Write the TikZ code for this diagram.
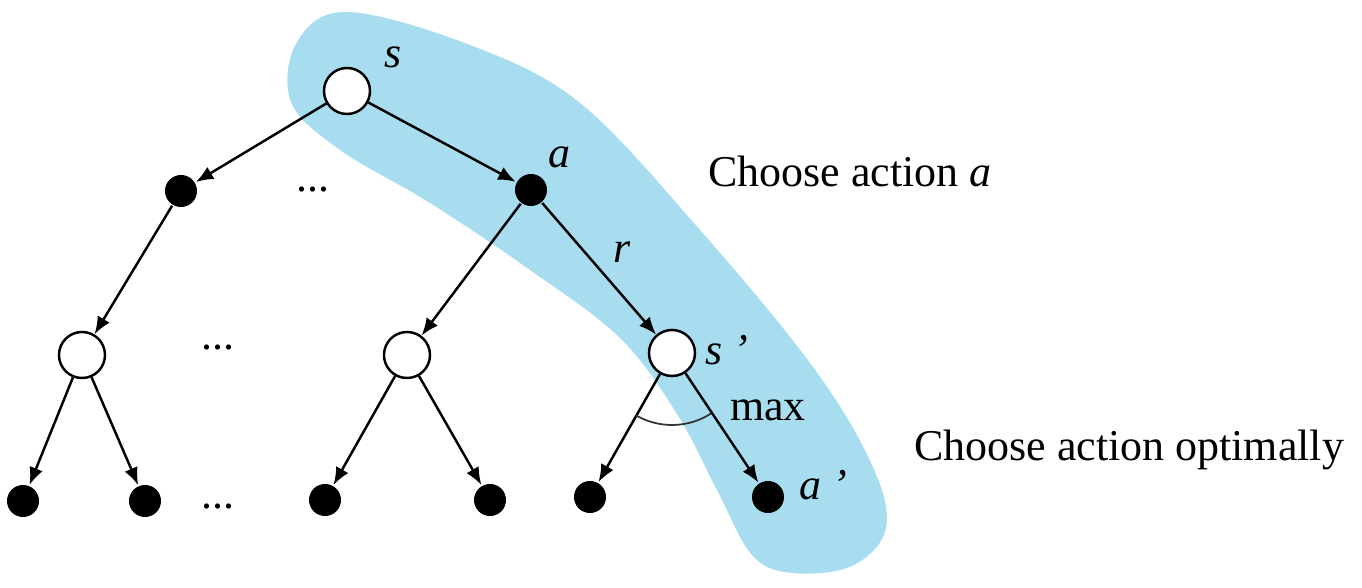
\documentclass[tikz,border=0pt]{standalone}
\usepackage{fontspec}
\setmainfont{Liberation Serif}
\usetikzlibrary{positioning,arrows.meta}
\definecolor{PaleSky}{HTML}{A8DDF0}

\begin{document}
\begin{tikzpicture}[x=0.01cm, y=-0.01cm, line width=0.7pt,
    every node/.style={font=\fontsize{12.5}{15}\selectfont},
    statenode/.style={circle, draw, fill=white, minimum size=0.46cm, inner sep=0pt},
    actionnode/.style={circle, fill=black, minimum size=0.32cm, inner sep=0pt},
    link/.style={-{Latex[length=5pt,width=4pt]}},
    lbl/.style={font=\fontsize{12.5}{15}\selectfont\itshape, inner sep=0pt}]
  \useasboundingbox (0,0) rectangle (1362,588);
  % highlighted path
  \fill[PaleSky] plot[smooth cycle, tension=0.6] coordinates {(347,12) (470,45) (580,103) (700,230)
    (813,367) (872,465) (886,528) (852,566) (792,573) (752,555) (717,490) (677,414) (620,338)
    (530,270) (430,203) (340,150) (291,102) (297,42)};
  % tree
  \node[statenode] (s) at (347,91) {};
  \node[actionnode] (al) at (181,191) {};
  \node[actionnode] (a) at (531,190) {};
  \node (dotsA) at (313,190) {...};
  \node[statenode] (sl) at (82,355) {};
  \node (dotsB) at (218,348) {...};
  \node[statenode] (sm) at (407,355) {};
  \node[statenode] (sp) at (672,353) {};
  \node[actionnode] (b1) at (23,501) {};
  \node[actionnode] (b2) at (145,501) {};
  \node (dotsC) at (218,507) {...};
  \node[actionnode] (b3) at (325,500) {};
  \node[actionnode] (b4) at (490,500) {};
  \node[actionnode] (b5) at (590,497) {};
  \node[actionnode] (ap) at (768,497) {};
  \foreach \from/\to in {s/al, s/a, al/sl, a/sm, a/sp, sl/b1, sl/b2, sm/b3, sm/b4, sp/b5, sp/ap}
    \draw[link] (\from) -- (\to);
  \draw[line width=0.5pt, black!80] (sp) ++(120:72) arc[start angle=120, end angle=57, radius=72];
  % labels
  \node[lbl] (slabel) at (393,57) {s};
  \node[lbl] (alabel) at (559,157) {a};
  \node[lbl] (rlabel) at (622,252) {r};
  \node[lbl] (splabel) at (727,350) {s ’};
  \node[inner sep=0pt] (maxlabel) at (768,410) {max};
  \node[lbl] (aplabel) at (823,485) {a ’};
  \node[anchor=base west, inner sep=0pt] (choosea) at (707,187) {Choose action \textit{a}};
  \node[anchor=base west, inner sep=0pt] (chooseopt) at (913,461) {Choose action optimally};
\end{tikzpicture}
\end{document}
